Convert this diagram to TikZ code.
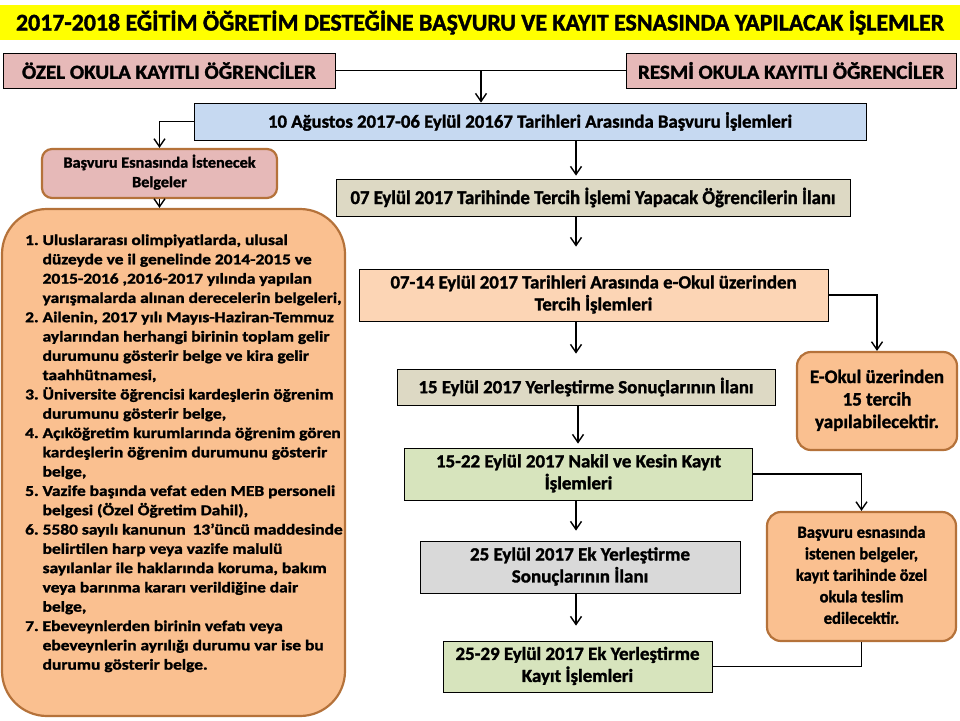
\documentclass[tikz,border=0pt]{standalone}
\usepackage{fontspec}
\setmainfont{Carlito}[BoldFeatures={FakeBold=1.5}]
\usepackage{graphicx}
\usetikzlibrary{arrows.meta,calc}
\definecolor{ttl}{HTML}{FFFF00}
\definecolor{pnk}{HTML}{E6B9B8}
\definecolor{blu}{HTML}{C6D9F1}
\definecolor{tan}{HTML}{DDD9C4}
\definecolor{pch}{HTML}{FCD5B5}
\definecolor{org}{HTML}{FAC090}
\definecolor{brd}{HTML}{B5723A}
\definecolor{grn}{HTML}{D7E4BD}
\definecolor{gry}{HTML}{D9D9D9}
\newlength\natw
\newcommand{\fw}[2]{\resizebox{#1pt}{\height}{#2}}
\newcommand{\fitl}[3]{\settowidth{\natw}{#2}\pgfmathsetmacro\sfac{#1/\the\natw}\scalebox{\sfac}[1]{\begin{tabular}{@{}c@{}}#2\\#3\end{tabular}}}
\begin{document}
\begin{tikzpicture}[x=1pt,y=-1pt,
  flow/.style={draw=black, line width=0.8pt, inner sep=0pt, align=center},
  rbox/.style={draw=brd, fill=org, line width=2.2pt, inner sep=0pt, align=center},
  arr/.style={-{Straight Barb[length=8pt,width=11pt]}, line width=1.4pt},
  ln/.style={line width=1.4pt}]
\useasboundingbox (0,0) rectangle (960,720);
\fill[white] (0,0) rectangle (960,720);

\node[fill=ttl, minimum width=960pt, minimum height=35pt, inner sep=0pt, font=\bfseries\fontsize{24}{28}\selectfont] (title) at (480,22.5)
  {\fw{928}{2017-2018 EĞİTİM ÖĞRETİM DESTEĞİNE BAŞVURU VE KAYIT ESNASINDA YAPILACAK İŞLEMLER}};

\node[flow, fill=pnk, minimum width=332pt, minimum height=35pt, font=\bfseries\fontsize{20}{24}\selectfont] (ozel) at (169,70.5)
  {\fw{294}{ÖZEL OKULA KAYITLI ÖĞRENCİLER}};
\node[flow, fill=pnk, minimum width=330pt, minimum height=35pt, font=\bfseries\fontsize{20}{24}\selectfont] (resmi) at (791,70.5)
  {\fw{306}{RESMİ OKULA KAYITLI ÖĞRENCİLER}};

\node[flow, fill=blu, minimum width=672pt, minimum height=37pt, font=\bfseries\fontsize{18.5}{22}\selectfont] (blue) at (530,121.5)
  {\fw{524}{10 Ağustos 2017-06 Eylül 20167 Tarihleri Arasında Başvuru İşlemleri}};

\node[rbox, fill=pnk, rounded corners=10pt, minimum width=235pt, minimum height=49pt, font=\bfseries\fontsize{15.5}{19.5}\selectfont] (pinkb) at (159.5,173.5)
  {\fitl{192}{Başvuru Esnasında İstenecek}{Belgeler}};

\node[rbox, rounded corners=45pt, minimum width=343pt, minimum height=507pt] (big) at (173.5,462.5) {};

\node[anchor=base west, inner sep=0pt, font=\bfseries\fontsize{15}{19.3}\selectfont] (list) at (25,245)
  {\settowidth{\natw}{yarışmalarda alınan derecelerin belgeleri,}\pgfmathsetmacro\sfac{299/\the\natw}\scalebox{\sfac}[1]{\begin{tabular}[t]{@{}l@{}l@{}}
  \makebox[15pt][l]{1.} & Uluslararası olimpiyatlarda, ulusal\\
  & düzeyde ve il genelinde 2014-2015 ve\\
  & 2015-2016 ,2016-2017 yılında yapılan\\
  & yarışmalarda alınan derecelerin belgeleri,\\
  2. & Ailenin, 2017 yılı Mayıs-Haziran-Temmuz\\
  & aylarından herhangi birinin toplam gelir\\
  & durumunu gösterir belge ve kira gelir\\
  & taahhütnamesi,\\
  3. & Üniversite öğrencisi kardeşlerin öğrenim\\
  & durumunu gösterir belge,\\
  4. & Açıköğretim kurumlarında öğrenim gören\\
  & kardeşlerin öğrenim durumunu gösterir\\
  & belge,\\
  5. & Vazife başında vefat eden MEB personeli\\
  & belgesi (Özel Öğretim Dahil),\\
  6. & 5580 sayılı kanunun \,13’üncü maddesinde\\
  & belirtilen harp veya vazife malulü\\
  & sayılanlar ile haklarında koruma, bakım\\
  & veya barınma kararı verildiğine dair\\
  & belge,\\
  7. & Ebeveynlerden birinin vefatı veya\\
  & ebeveynlerin ayrılığı durumu var ise bu\\
  & durumu gösterir belge.
  \end{tabular}}};

\node[flow, fill=tan, minimum width=514pt, minimum height=37pt, font=\bfseries\fontsize{19.5}{23}\selectfont] (e07) at (593,197.5)
  {\fw{485}{07 Eylül 2017 Tarihinde Tercih İşlemi Yapacak Öğrencilerin İlanı}};
\node[flow, fill=pch, minimum width=469pt, minimum height=52pt, font=\bfseries\fontsize{18.5}{22}\selectfont] (e0714) at (593.5,295)
  {\fitl{406}{07-14 Eylül 2017 Tarihleri Arasında e-Okul üzerinden}{Tercih İşlemleri}};
\node[flow, fill=tan, minimum width=378pt, minimum height=36pt, font=\bfseries\fontsize{18.5}{22}\selectfont] (e15) at (586,387)
  {\fw{335}{15 Eylül 2017 Yerleştirme Sonuçlarının İlanı}};
\node[flow, fill=grn, minimum width=348pt, minimum height=52pt, font=\bfseries\fontsize{18.5}{21.5}\selectfont] (e1522) at (578.5,474)
  {\fitl{285}{15-22 Eylül 2017 Nakil ve Kesin Kayıt}{İşlemleri}};
\node[flow, fill=gry, minimum width=320pt, minimum height=52pt, font=\bfseries\fontsize{18.5}{22}\selectfont] (e25) at (580,567)
  {\fitl{220}{25 Eylül 2017 Ek Yerleştirme}{Sonuçlarının İlanı}};
\node[flow, fill=grn, minimum width=269pt, minimum height=51pt, font=\bfseries\fontsize{18.5}{22}\selectfont] (e2529) at (577.5,666.5)
  {\fitl{244}{25-29 Eylül 2017 Ek Yerleştirme}{Kayıt İşlemleri}};

\node[rbox, rounded corners=14pt, minimum width=160pt, minimum height=98pt, font=\bfseries\fontsize{19}{22.5}\selectfont] (eokul) at (877,401)
  {\begin{tabular}{@{}c@{}}E-Okul üzerinden\\15 tercih\\yapılabilecektir.\end{tabular}};
\node[rbox, rounded corners=14pt, minimum width=189pt, minimum height=129pt, font=\bfseries\fontsize{17}{21.5}\selectfont] (basv) at (861.5,576.5)
  {\fitl{128}{Başvuru esnasında}{istenen belgeler,\\kayıt tarihinde özel\\okula teslim\\edilecektir.}};

\coordinate (j1) at (481,70.5);
\coordinate (cx) at (576,0);
\coordinate (cx2) at (578,0);
\draw[ln] (ozel.east) -- (resmi.west);
\draw[arr] (j1) -- (j1 |- blue.north);
\draw[arr] (blue.west) -| (pinkb.north);
\draw[arr] (pinkb.south) -- (pinkb.south |- big.north);
\draw[arr, shorten >=3pt] (blue.south -| cx) -- (e07.north -| cx);
\draw[arr, shorten >=22pt] (e07.south -| cx) -- (e0714.north -| cx);
\draw[arr, shorten >=15pt] (e0714.south -| cx) -- (e15.north -| cx);
\draw[arr, shorten >=4pt] (e15.south -| cx2) -- (e1522.north -| cx2);
\draw[arr, shorten >=10pt] (e1522.south -| cx) -- (e25.north -| cx);
\draw[arr, shorten >=15pt] (e25.south -| cx) -- (e2529.north -| cx);
\draw[arr] (e0714.east) -| (eokul.north);
\draw[arr] (e1522.east) -| (basv.north);
\draw[ln] (basv.south) |- (e2529.east);
\end{tikzpicture}
\end{document}
